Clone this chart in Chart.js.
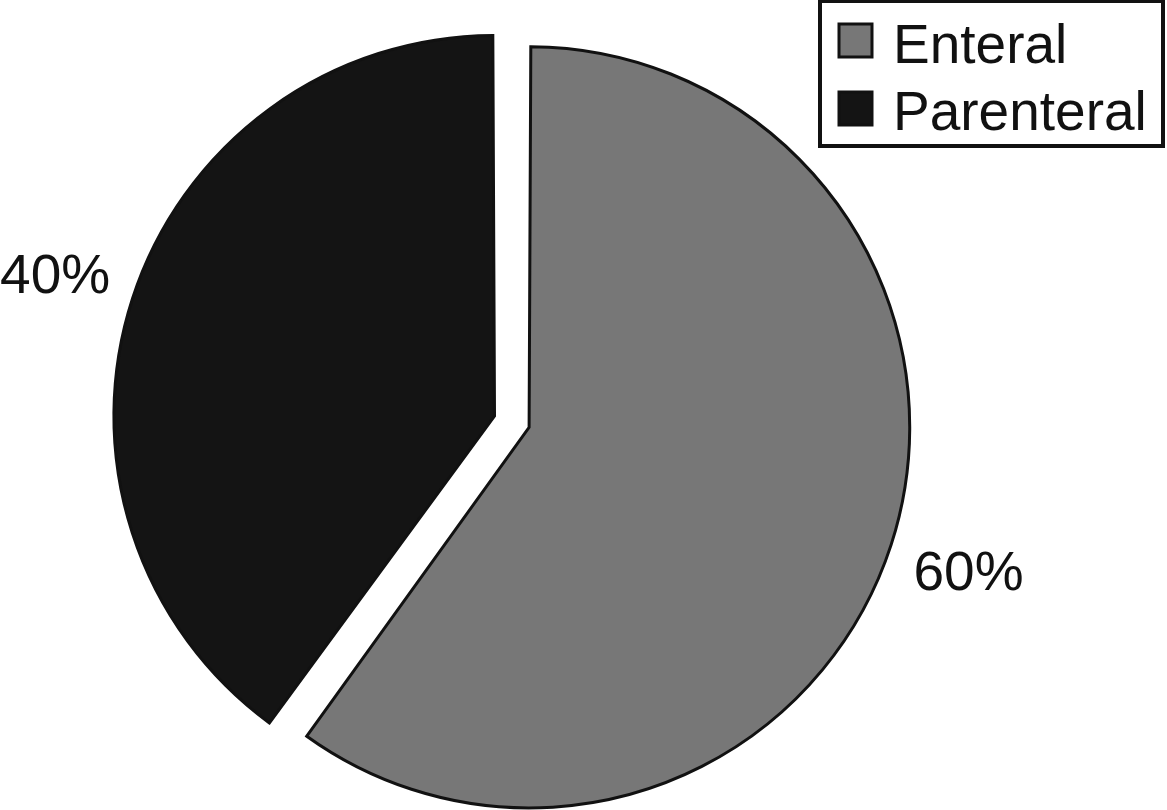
<!DOCTYPE html>
<html>
<head>
<meta charset="utf-8">
<script src="https://cdn.jsdelivr.net/npm/chart.js@4"></script>
<style>
  html, body { margin: 0; padding: 0; background: #fff; }
  canvas { display: block; }
</style>
</head>
<body>
<canvas id="chart-route" width="1167" height="810"></canvas>
<script>
var labels = ["Enteral", "Parenteral"];
var shares = [60, 40];
var pctLabels = ["60%", "40%"];
var colors = ["#777777", "#141414"];

var FONT = '55px "Liberation Sans", Arial, sans-serif';

// percent labels outside each slice + boxed legend top right
var extrasPlugin = {
    id: 'extras',
    afterDraw: function (chart) {
        var ctx = chart.ctx;
        var arcs = chart.getDatasetMeta(0).data;
        ctx.save();
        ctx.font = FONT;
        ctx.fillStyle = '#111';
        ctx.textAlign = 'center';
        ctx.textBaseline = 'alphabetic';
        arcs.forEach(function (arc, i) {
            var mid = (arc.startAngle + arc.endAngle) / 2;
            var shift = (arc.options.offset || 0) / 4;
            var dist = arc.outerRadius + shift + 92;
            var x = arc.x + Math.cos(mid) * dist;
            var y = arc.y + Math.sin(mid) * dist;
            ctx.fillText(pctLabels[i], x, y + 20);
        });

        // legend
        ctx.lineWidth = 4;
        ctx.strokeStyle = '#111';
        ctx.strokeRect(820, 1, 343, 145);
        ctx.textAlign = 'left';
        labels.forEach(function (lab, i) {
            var y0 = 24 + i * 68;
            ctx.fillStyle = colors[i];
            ctx.fillRect(839, y0, 33, 33);
            ctx.lineWidth = 3;
            ctx.strokeStyle = '#111';
            ctx.strokeRect(839, y0, 33, 33);
            ctx.fillStyle = '#111';
            ctx.fillText(lab, 893, 63 + i * 67);
        });
        ctx.restore();
    }
};

var ctxP = document.getElementById("chart-route").getContext('2d');
var myPieChart = new Chart(ctxP, {
    type: 'pie',
    data: {
        labels: labels,
        datasets: [{
            data: shares,
            backgroundColor: colors,
            borderColor: "#111111",
            borderWidth: 3,
            borderJoinStyle: 'miter',
            offset: [42.5, 103]
        }]
    },
    options: {
        responsive: false,
        animation: false,
        radius: 370,
        layout: {
            padding: { left: 0, right: 129, top: 38, bottom: 0 }
        },
        plugins: {
            legend: { display: false },
            tooltip: { enabled: false }
        }
    },
    plugins: [extrasPlugin]
});
</script>
</body>
</html>
